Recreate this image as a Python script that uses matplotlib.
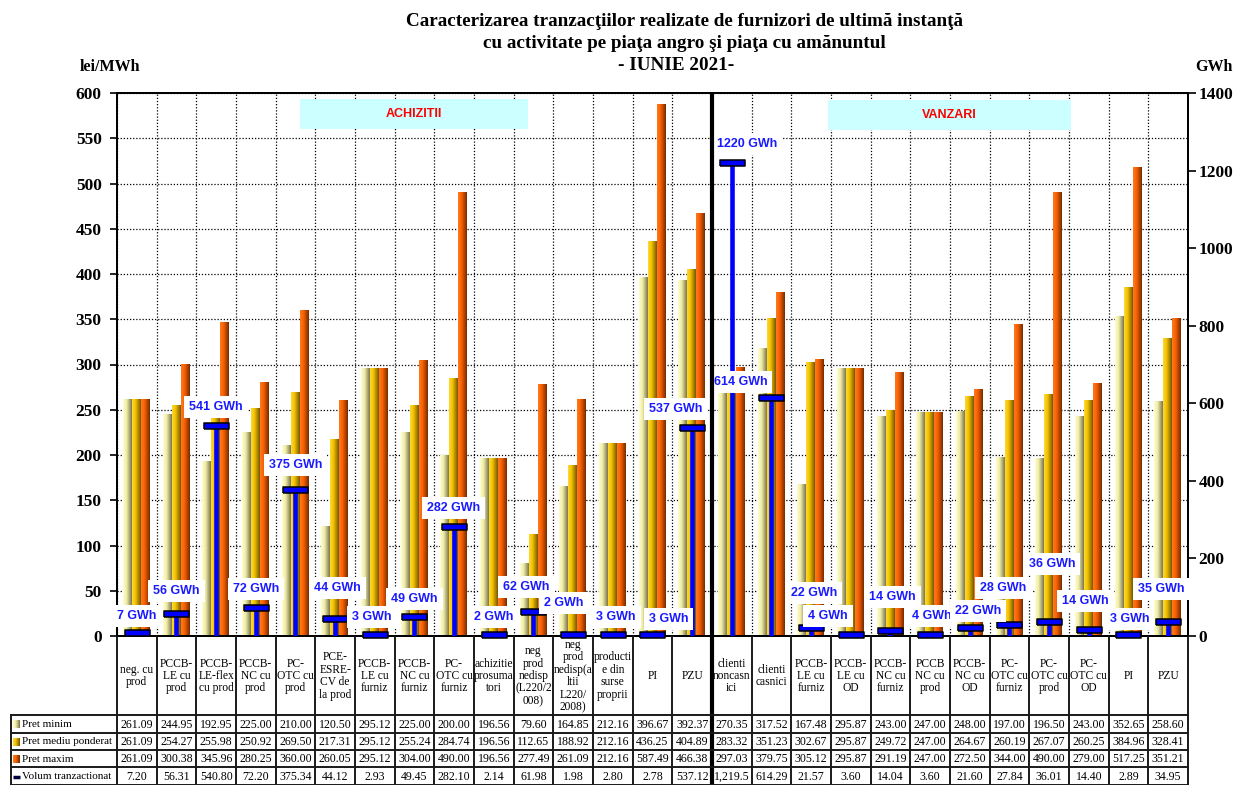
import numpy as np
import matplotlib
matplotlib.use('Agg')
import matplotlib.pyplot as plt
from matplotlib.colors import LinearSegmentedColormap
from matplotlib.patches import Rectangle

# ---------------- data ----------------
categories = [
    "neg. cu\nprod", "PCCB-\nLE cu\nprod", "PCCB-\nLE-flex\ncu prod", "PCCB-\nNC cu\nprod",
    "PC-\nOTC cu\nprod", "PCE-\nESRE-\nCV de\nla prod", "PCCB-\nLE cu\nfurniz", "PCCB-\nNC cu\nfurniz",
    "PC-\nOTC cu\nfurniz", "achizitie\nprosuma\ntori", "neg\nprod\nnedisp\n(L220/2\n008)",
    "neg\nprod\nnedisp(a\nltii\nL220/\n2008)", "producti\ne din\nsurse\nproprii", "PI", "PZU",
    "clienti\nnoncasn\nici", "clienti\ncasnici", "PCCB-\nLE cu\nfurniz", "PCCB-\nLE cu\nOD",
    "PCCB-\nNC cu\nfurniz", "PCCB\nNC cu\nprod", "PCCB-\nNC cu\nOD", "PC-\nOTC cu\nfurniz",
    "PC-\nOTC cu\nprod", "PC-\nOTC cu\nOD", "PI", "PZU",
]
pret_minim = [261.09, 244.95, 192.95, 225.00, 210.00, 120.50, 295.12, 225.00, 200.00, 196.56,
              79.60, 164.85, 212.16, 396.67, 392.37, 270.35, 317.52, 167.48, 295.87, 243.00,
              247.00, 248.00, 197.00, 196.50, 243.00, 352.65, 258.60]
pret_mediu = [261.09, 254.27, 255.98, 250.92, 269.50, 217.31, 295.12, 255.24, 284.74, 196.56,
              112.65, 188.92, 212.16, 436.25, 404.89, 283.32, 351.23, 302.67, 295.87, 249.72,
              247.00, 264.67, 260.19, 267.07, 260.25, 384.96, 328.41]
pret_maxim = [261.09, 300.38, 345.96, 280.25, 360.00, 260.05, 295.12, 304.00, 490.00, 196.56,
              277.49, 261.09, 212.16, 587.49, 466.38, 297.03, 379.75, 305.12, 295.87, 291.19,
              247.00, 272.50, 344.00, 490.00, 279.00, 517.25, 351.21]
volum = [7.20, 56.31, 540.80, 72.20, 375.34, 44.12, 2.93, 49.45, 282.10, 2.14,
         61.98, 1.98, 2.80, 2.78, 537.12, 1219.5, 614.29, 21.57, 3.60, 14.04,
         3.60, 21.60, 27.84, 36.01, 14.40, 2.89, 34.95]
row_names = ["Pret minim", "Pret mediu ponderat", "Pret maxim", "Volum tranzactionat"]
n_achizitii = 15

# label offsets (pixels) for volume annotations: (dx, dy)
label_offsets = [(0, 17), (0, 23), (0, 19), (0, 19), (0, 25), (2, 31), (-3, 18), (0, 18),
                 (-1, 19), (0, 18), (-7, 25), (-9, 32), (3, 18), (16, 16), (-16, 19),
                 (15, 19), (-31, 16), (3, 35), (-23, 19), (2, 34), (2, 19), (8, 17),
                 (-6, 37), (3, 58), (-4, 29), (1, 16), (-7, 33)]

# ---------------- figure ----------------
W, H = 1235, 785
fig = plt.figure(figsize=(W / 100, H / 100), dpi=100)
fig.patch.set_facecolor('white')
AX_L, AX_R, AX_T, AX_B = 117, 1188, 93, 636
ax = fig.add_axes([AX_L / W, 1 - AX_B / H, (AX_R - AX_L) / W, (AX_B - AX_T) / H])
n = len(categories)
serif = 'Liberation Serif'
sans = 'Liberation Sans'

grads = [
    [(0.0, '#FFFFCC'), (0.40, '#F0ECA8'), (1.0, '#7A7650')],
    [(0.0, '#FFDA30'), (0.40, '#F2C000'), (1.0, '#765800')],
    [(0.0, '#FF7A20'), (0.40, '#FA6000'), (1.0, '#742C00')],
]
cmaps = [LinearSegmentedColormap.from_list('g%d' % k, g) for k, g in enumerate(grads)]
grad_img = np.linspace(0, 1, 40).reshape(1, -1)

bw = 0.225
series = [pret_minim, pret_mediu, pret_maxim]
for k, vals in enumerate(series):
    for i, v in enumerate(vals):
        xc = i + 0.49 + (k - 1) * bw
        ax.imshow(grad_img, cmap=cmaps[k], extent=(xc - bw / 2, xc + bw / 2, 0, v),
                  aspect='auto', interpolation='bilinear', zorder=2, origin='lower')

ax.set_xlim(0, n)
ax.set_ylim(0, 600)
ax.set_yticks(np.arange(0, 601, 50))
ax.set_xticks(np.arange(0, n + 1))
ax.set_xticklabels([])
ax.tick_params(axis='x', length=0)
ax.tick_params(axis='y', direction='out', length=5, width=1.2, pad=6)
for lab in ax.get_yticklabels():
    lab.set_fontfamily(serif)
    lab.set_fontweight('bold')
    lab.set_fontsize(12.5)
ax.grid(True, color='black', linestyle=(0, (1, 1.5)), linewidth=0.9)
ax.set_axisbelow(True)
for s in ax.spines.values():
    s.set_linewidth(1.4)

# section boxes
ax.add_patch(Rectangle((4.61, 560.5), 10.36 - 4.61, 593.4 - 560.5, facecolor='#CCFFFF',
                       edgecolor='none', zorder=1.5))
ax.text((4.61 + 10.36) / 2, 577, 'ACHIZITII', color='#FF0000', fontsize=9, fontweight='bold',
        family=sans, ha='center', va='center', zorder=3)
ax.add_patch(Rectangle((17.92, 559.5), 24.05 - 17.92, 592.3 - 559.5, facecolor='#CCFFFF',
                       edgecolor='none', zorder=1.5))
ax.text((17.92 + 24.05) / 2, 576, 'VANZARI', color='#FF0000', fontsize=9, fontweight='bold',
        family=sans, ha='center', va='center', zorder=3)

# secondary axis
ax2 = ax.twinx()
ax2.set_ylim(0, 1400)
ax2.set_yticks(np.arange(0, 1401, 200))
ax2.tick_params(axis='y', direction='out', length=6, width=1.2, pad=1.5)
for lab in ax2.get_yticklabels():
    lab.set_fontfamily(serif)
    lab.set_fontweight('bold')
    lab.set_fontsize(12.5)
for s in ax2.spines.values():
    s.set_linewidth(1.4)

xc = np.arange(n) + 0.5
ax2.vlines(xc, 0, volum, color='#0000FF', lw=3.3, zorder=4)
marker_verts = [(-1, -0.24), (1, -0.24), (1, 0.24), (-1, 0.24), (-1, -0.24)]
ax2.plot(xc, volum, linestyle='none', marker=marker_verts, markersize=18,
         markerfacecolor='#0000FF', markeredgecolor='black', markeredgewidth=1.1, zorder=5,
         clip_on=False)
for i, v in enumerate(volum):
    dx, dy = label_offsets[i]
    ax2.annotate('%d GWh' % int(v + 0.5), xy=(xc[i], v), xytext=(dx, dy),
                 textcoords='offset pixels', ha='center', va='center', fontsize=9,
                 fontweight='bold', family=sans, color='#1A1AFF', zorder=6,
                 annotation_clip=False,
                 bbox=dict(boxstyle='square,pad=0.4', facecolor='white', edgecolor='none'))

# ---------------- titles ----------------
title_lines = ["Caracterizarea tranzacţiilor realizate de furnizori de ultimă instanţă",
               "cu activitate pe piaţa angro şi piaţa cu amănuntul",
               "- IUNIE 2021-"]
title_x = [684, 684, 676]
for j, t in enumerate(title_lines):
    fig.text(title_x[j] / W, 1 - (21 + 22.5 * j) / H, t, ha='center', va='center',
             fontsize=13.8, fontweight='bold', family=serif)
fig.text(80 / W, 1 - 67 / H, 'lei/MWh', ha='left', va='center', fontsize=11.5,
         fontweight='bold', family=serif)
fig.text(1195 / W, 1 - 67 / H, 'GWh', ha='left', va='center', fontsize=11.5,
         fontweight='bold', family=serif)

# ---------------- table ----------------
tab = fig.add_axes([0, 0, 1, 1], zorder=10)
tab.set_xlim(0, W)
tab.set_ylim(H, 0)
tab.axis('off')
colw = (AX_R - AX_L) / n
row_y = [715, 733, 750, 767, 785]
lc = '#1a1a1a'
for i in range(n + 1):
    x = AX_L + i * colw
    lw = 3 if i == n_achizitii else 1.4
    tab.plot([x, x], [AX_B, H], color='black' if i == n_achizitii else lc, lw=lw,
             solid_capstyle='butt')
tab.plot([11, 11], [row_y[0], H], color=lc, lw=1.4)
for y in row_y:
    tab.plot([11, AX_R], [y, y], color=lc, lw=1.4)
# separator line through plot
tab.plot([AX_L + n_achizitii * colw] * 2, [AX_T, AX_B], color='black', lw=3,
         solid_capstyle='butt')

for i, c in enumerate(categories):
    tab.text(AX_L + (i + 0.5) * colw, 676, c, ha='center', va='center', fontsize=8.3,
             family=serif, linespacing=1.05)


def fmt(v):
    s = '{:,.2f}'.format(v)
    return s[:7] if len(s) > 7 else s


rows = [pret_minim, pret_mediu, pret_maxim, volum]
for r, vals in enumerate(rows):
    yc = (row_y[r] + row_y[r + 1]) / 2 + 0.5
    for i, v in enumerate(vals):
        tab.text(AX_L + (i + 0.5) * colw, yc, fmt(v), ha='center', va='center',
                 fontsize=8.6, family=serif)
    tab.text(21.5, yc, row_names[r], ha='left', va='center', fontsize=8.0, family=serif)
    if r < 3:
        tab.imshow(grad_img, cmap=cmaps[r], extent=(13, 20, yc + 4, yc - 4), aspect='auto',
                   interpolation='bilinear', zorder=3)
    else:
        tab.plot([13, 20], [yc, yc], color='#000040', lw=2.5, solid_capstyle='butt')
tab.set_xlim(0, W)
tab.set_ylim(H, 0)

fig.savefig('out.png', dpi=100, facecolor='white')
